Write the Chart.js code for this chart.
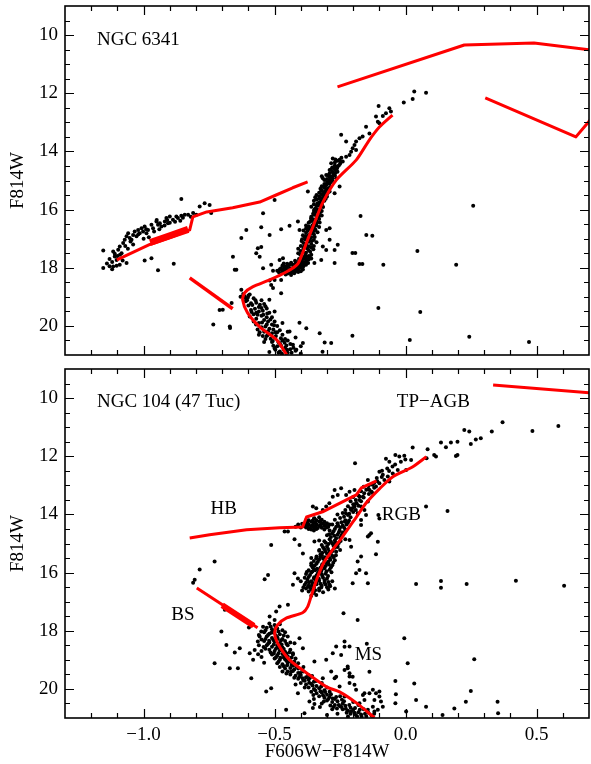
<!DOCTYPE html>
<html>
<head>
<meta charset="utf-8">
<script src="https://cdn.jsdelivr.net/npm/chart.js@4.4.1/dist/chart.umd.min.js"></script>
<style>
  html, body { margin: 0; padding: 0; background: #fff; }
  #wrap { position: relative; width: 591px; height: 764px; }
  canvas { position: absolute; left: 0; }
  #top { top: 0; }
  #bottom { top: 362px; }
</style>
</head>
<body>
<div id="wrap">
  <canvas id="top" width="591" height="362"></canvas>
  <canvas id="bottom" width="591" height="402"></canvas>
</div>
<script>
// ---- axis ticks ----
const yTickValues = [10, 12, 14, 16, 18, 20];
const xTickValues = [-1.0, -0.5, 0.0, 0.5];
const xTickLabels = ['\u22121.0', '\u22120.5', '0.0', '0.5'];

// ---- NGC 6341 : observed stars [colour, magnitude] ----
const ngc6341Stars = [
  // horizontal branch
  [-1.154,17.41],[-1.116,17.44],[-1.110,17.61],[-1.103,17.73],[-1.097,17.38],[-1.091,17.27],[-1.084,17.50],
  [-1.078,17.15],[-1.072,17.04],[-1.065,16.92],[-1.059,16.81],[-1.053,16.98],[-1.046,17.04],[-1.040,16.87],
  [-1.034,16.75],[-1.027,16.92],[-1.021,16.70],[-1.015,16.81],[-1.008,16.64],[-1.002,16.75],[-0.996,16.58],
  [-0.989,16.81],[-0.983,16.70],[-0.970,16.52],[-0.964,16.64],[-0.951,16.41],[-0.945,16.52],[-0.938,16.47],
  [-0.932,16.58],[-0.919,16.41],[-0.913,16.29],[-0.907,16.47],[-0.900,16.24],[-0.888,16.35],[-0.875,16.24],
  [-0.869,16.29],[-0.856,16.21],[-0.843,16.18],[-0.830,16.18],[-0.811,16.12],[-0.799,16.18],[-0.786,15.89],
  [-0.767,15.78],[-0.748,15.84],[-0.742,16.12],[-0.856,15.64],
  [-1.14,17.85],[-1.13,17.95],[-1.12,17.80],[-1.10,17.60],[-1.09,17.55],[-1.13,17.70],[-1.06,17.35],
  [-1.04,17.20],[-1.00,17.00],[-0.98,16.95],[-1.12,18.05],[-1.08,17.75],[-1.05,17.10],[-1.02,16.85],
  [-0.96,16.75],[-0.94,16.68],[-0.92,16.55],[-0.90,16.45],[-0.88,16.42],[-0.86,16.38],[-1.11,17.52],
  [-1.07,17.25],[-0.99,16.68],[-0.95,16.36],[-0.91,16.36],[-0.85,16.28],[-0.82,16.25],
  [-0.996,17.75],[-0.970,17.67],[-0.945,18.09],[-0.885,17.86],[-1.154,18.01],[-1.116,17.96],[-1.103,17.93],
  [-1.091,17.90],[-1.065,17.84],
  // field / scattered
  [-0.373,15.38],[-0.544,16.13],[-0.500,15.67],[-0.608,16.70],[-0.627,16.98],[-0.551,16.61],[-0.519,16.87],
  [-0.475,16.68],[-0.443,16.56],[-0.411,16.41],[-0.659,17.62],[-0.564,17.33],[-0.551,17.29],[-0.570,17.50],
  [-0.557,17.62],[-0.652,18.07],[-0.646,18.07],[-0.544,18.02],[-0.513,17.90],[-0.481,17.73],[-0.468,17.67],
  [-0.506,18.10],[-0.475,18.42],[-0.519,18.44],[-0.500,18.42],[-0.513,18.59],[-0.506,18.70],[-0.627,18.76],
  [-0.710,19.45],[-0.671,20.02],[-0.475,18.88],[-0.443,20.19],[-0.379,20.08],[-0.328,20.25],[-0.309,20.57],
  [-0.284,20.59],[-0.392,20.59],[-0.417,20.82],[-0.405,16.70],[-0.303,16.70],[-0.290,16.64],[-0.316,17.27],
  [-0.303,17.39],[-0.271,17.39],[-0.259,17.21],[-0.290,17.04],[-0.271,17.84],[-0.322,17.73],[-0.348,17.84],
  [-0.734,19.95],[-0.670,20.07],[-0.698,19.44],[-0.664,19.21],
  [0.258,15.87],[-0.172,16.22],[-0.150,16.87],[-0.127,16.90],[-0.203,17.49],[-0.192,17.49],[-0.176,17.87],
  [-0.165,17.87],[-0.085,17.90],[0.045,17.42],[0.193,17.90],[-0.104,19.38],[0.056,19.52],[-0.203,20.34],
  [0.016,20.48],[0.243,20.37],[0.471,20.55],[-0.317,20.89],[-0.405,19.89],
  // upper red giant branch
  [0.033,11.94],[0.078,11.98],[0.027,12.20],[-0.007,12.32],[-0.103,12.44],[-0.062,12.52],[-0.056,12.63],
  [-0.075,12.69],[-0.113,12.80],[-0.087,12.78],[-0.106,12.98],[-0.100,13.03],[-0.151,13.15],[-0.138,13.38],
  [-0.246,13.43],[-0.227,13.66],[-0.164,13.49],[-0.176,13.55],[-0.189,13.66],[-0.195,13.78],[-0.202,13.89],
  [-0.208,14.01],[-0.189,13.95],[-0.214,14.12],[-0.227,14.18],[-0.240,14.35],[-0.252,14.29],[-0.278,14.24],
  [-0.284,14.41],[-0.271,14.58],[-0.290,14.64],[-0.303,14.81],[-0.316,14.92],[-0.284,14.87],[-0.265,14.92],
  [-0.297,15.10],[-0.310,15.21],[-0.322,15.32],[-0.271,15.44],[-0.252,15.21],[-0.290,14.98],
  // red giant branch / subgiant branch
  [-0.48,18.05],[-0.47,18.12],[-0.46,18.00],[-0.46,18.15],[-0.45,17.95],[-0.45,18.08],[-0.44,18.02],
  [-0.44,18.18],[-0.43,17.90],[-0.43,18.05],[-0.42,17.85],[-0.42,17.98],[-0.42,18.12],[-0.41,17.80],
  [-0.41,17.92],[-0.41,18.06],[-0.40,17.75],[-0.40,17.88],[-0.40,18.00],[-0.39,17.70],[-0.39,17.82],
  [-0.39,17.95],[-0.38,17.65],[-0.38,17.78],[-0.38,17.90],[-0.37,17.60],[-0.37,17.72],[-0.36,17.55],
  [-0.36,17.68],[-0.47,17.92],[-0.49,18.10],[-0.44,17.88],[-0.43,18.15],[-0.45,18.20],[-0.40,18.12],
  [-0.475,18.02],[-0.462,17.96],[-0.455,18.13],[-0.447,17.91],[-0.436,18.09],[-0.428,17.97],[-0.418,18.04],
  [-0.412,17.86],[-0.404,17.94],[-0.397,17.79],[-0.392,18.06],[-0.386,17.86],[-0.378,17.73],[-0.372,17.84],
  [-0.366,17.63],[-0.437,17.83],[-0.452,17.86],[-0.468,18.06],[-0.483,18.16],[-0.425,18.19],[-0.407,17.70],
  [-0.394,17.62],[-0.383,17.57],[-0.41,18.15],[-0.458,18.23],
  [-0.415,17.98],[-0.396,17.89],[-0.388,17.68],[-0.422,17.76],[-0.457,18.04],[-0.437,18.25],[-0.465,17.85],
  [-0.41,17.50],[-0.40,17.42],[-0.39,17.35],[-0.38,17.48],[-0.37,17.40],[-0.36,17.30],[-0.40,17.25],
  [-0.39,17.15],[-0.38,17.22],[-0.37,17.10],[-0.36,17.18],[-0.35,17.05],[-0.395,17.02],[-0.385,16.95],
  [-0.37,16.88],[-0.36,16.95],[-0.35,16.85],[-0.38,16.80],[-0.41,17.35],[-0.35,17.25],[-0.34,17.12],
  [-0.402,17.55],[-0.388,17.28],[-0.376,17.33],[-0.364,17.45],[-0.352,17.36],[-0.397,17.08],[-0.382,17.03],
  [-0.367,16.99],[-0.356,16.79],[-0.374,16.73],[-0.362,16.64],[-0.344,16.69],[-0.392,16.88],[-0.347,16.94],
  [-0.336,16.78],
  [-0.392,17.47],[-0.378,17.18],[-0.369,17.27],[-0.358,17.08],[-0.381,16.91],[-0.364,16.83],[-0.349,16.73],
  [-0.371,16.67],[-0.356,16.55],[-0.342,16.47],[-0.361,16.31],[-0.347,16.37],[-0.331,16.23],[-0.353,16.14],
  [-0.339,16.07],[-0.326,16.09],[-0.348,15.99],[-0.331,15.86],[-0.319,15.74],[-0.329,15.62],[-0.312,15.57],
  [-0.321,15.47],[-0.307,15.36],[-0.296,15.27],[-0.302,15.14],[-0.289,15.01],[-0.279,14.85],[-0.268,14.73],
  [-0.261,14.56],[-0.248,14.36],
  [-0.39,16.72],[-0.38,16.65],[-0.37,16.58],[-0.36,16.70],[-0.35,16.62],[-0.34,16.55],[-0.37,16.45],
  [-0.36,16.38],[-0.35,16.48],[-0.34,16.40],[-0.33,16.32],[-0.36,16.25],[-0.35,16.18],[-0.34,16.22],
  [-0.33,16.12],[-0.32,16.20],[-0.35,16.05],[-0.34,16.00],[-0.32,16.05],[-0.38,16.55],[-0.33,16.60],
  [-0.365,16.42],[-0.352,16.33],[-0.338,16.27],[-0.328,16.44],[-0.346,16.12],[-0.327,15.98],[-0.343,15.95],
  [-0.315,15.91],[-0.337,15.79],[-0.322,15.66],[-0.305,15.63],[-0.345,15.58],[-0.315,15.46],[-0.298,15.44],
  [-0.325,15.28],[-0.305,15.18],[-0.288,15.22],[-0.285,15.05],[-0.296,14.82],[-0.275,14.77],[-0.263,14.60],
  [-0.285,14.62],[-0.255,14.48],[-0.268,14.28],[-0.245,14.22],
  [-0.36,15.90],[-0.35,15.82],[-0.34,15.88],[-0.33,15.75],[-0.32,15.82],[-0.31,15.70],[-0.34,15.65],
  [-0.33,15.55],[-0.32,15.60],[-0.31,15.50],[-0.30,15.55],[-0.33,15.42],[-0.32,15.35],[-0.31,15.40],
  [-0.30,15.30],[-0.29,15.38],[-0.34,15.50],[-0.35,15.70],[-0.31,15.25],[-0.32,15.20],
  [-0.31,15.12],[-0.30,15.05],[-0.29,15.10],[-0.28,15.00],[-0.30,14.95],[-0.29,14.88],[-0.28,14.92],
  [-0.27,14.82],[-0.29,14.75],[-0.28,14.70],[-0.27,14.62],[-0.26,14.70],[-0.28,14.55],[-0.27,14.48],
  [-0.26,14.52],[-0.25,14.42],[-0.27,14.38],[-0.26,14.32],[-0.31,14.98],[-0.32,14.85],
  // main sequence
  [-0.62,18.90],[-0.60,18.95],[-0.58,19.05],[-0.61,19.15],[-0.57,19.20],[-0.55,19.12],[-0.60,19.30],
  [-0.56,19.35],[-0.54,19.25],[-0.59,19.45],[-0.56,19.50],[-0.53,19.40],[-0.58,19.60],[-0.55,19.65],
  [-0.52,19.55],[-0.57,19.75],[-0.54,19.80],[-0.51,19.70],[-0.56,19.90],[-0.53,19.95],[-0.50,19.85],
  [-0.55,20.05],[-0.52,20.10],[-0.49,20.00],[-0.54,20.20],[-0.51,20.25],[-0.48,20.15],[-0.53,20.35],
  [-0.50,20.40],[-0.47,20.30],[-0.46,20.45],[-0.51,20.55],[-0.48,20.60],[-0.45,20.50],[-0.49,20.70],
  [-0.46,20.75],[-0.43,20.65],[-0.44,20.80],[-0.48,20.88],[-0.45,20.92],[-0.42,20.85],[-0.40,20.95],
  [-0.52,20.90],[-0.61,19.05],[-0.59,19.22],[-0.57,19.55],[-0.55,19.38],[-0.53,19.70],[-0.51,19.95],
  [-0.49,20.22],[-0.47,20.50],[-0.44,20.62],[-0.50,20.78],[-0.56,20.30],[-0.58,19.85],[-0.52,19.10],
  [-0.50,19.50],[-0.47,19.90],[-0.45,20.20],[-0.42,20.40],[-0.40,20.70],[-0.63,19.00],[-0.54,20.55],
  [-0.605,19.12],[-0.585,19.28],[-0.575,19.41],[-0.565,19.62],[-0.545,19.48],[-0.548,19.88],[-0.535,20.02],
  [-0.525,20.18],[-0.505,20.12],[-0.515,20.44],[-0.495,20.35],[-0.485,20.56],[-0.475,20.68],[-0.465,20.82],
  [-0.455,20.67],[-0.435,20.92],[-0.505,20.68],[-0.525,19.85],[-0.535,19.32],[-0.595,19.68],[-0.565,20.12],
  [-0.545,20.35],[-0.485,20.92],[-0.615,18.98],[-0.595,18.92],
  [-0.602,19.02],[-0.573,19.12],[-0.588,19.52],[-0.556,19.27],[-0.571,19.95],[-0.543,19.62],[-0.528,19.57],
  [-0.557,20.22],[-0.526,20.31],[-0.497,20.22],[-0.476,20.42],[-0.507,20.52],[-0.462,20.58],[-0.497,20.82],
  [-0.472,20.96],[-0.452,20.82],[-0.428,20.75],[-0.516,19.78],[-0.502,19.98],[-0.535,20.45]
];

// ---- NGC 6341 : model tracks ----
const ngc6341Hb = [[-1.102,17.73],[-0.976,17.20],[-0.889,16.93],[-0.824,16.70],[-0.812,16.25],[-0.759,16.08],
  [-0.660,15.94],[-0.557,15.74],[-0.492,15.49],[-0.431,15.25],[-0.374,15.05]];
const ngc6341HbBand = [[-0.975,17.13],[-0.90,16.90],[-0.83,16.68]];
const ngc6341Bs = [[-0.824,18.35],[-0.660,19.41]];
const ngc6341Rgb = [[-0.454,20.99],[-0.492,20.48],[-0.557,20.03],[-0.603,19.55],[-0.622,19.10],[-0.614,18.86],
  [-0.584,18.66],[-0.519,18.42],[-0.454,18.14],[-0.412,17.87],[-0.393,17.49],[-0.374,17.04],[-0.348,16.46],
  [-0.317,15.77],[-0.264,14.98],[-0.188,14.29],[-0.138,13.60],[-0.100,13.16],[-0.050,12.75]];
const ngc6341AgbUpper = [[-0.260,11.78],[0.224,10.34],[0.490,10.27],[0.72,10.53]];
const ngc6341AgbLower = [[0.304,12.16],[0.650,13.50],[0.72,12.75]];

// ---- NGC 104 : observed stars ----
const ngc104Stars = [
  // red clump / horizontal branch
  [-0.39,14.40],[-0.38,14.30],[-0.38,14.45],[-0.37,14.20],[-0.37,14.35],[-0.37,14.50],[-0.36,14.25],
  [-0.36,14.40],[-0.35,14.15],[-0.35,14.30],[-0.35,14.45],[-0.34,14.20],[-0.34,14.35],[-0.34,14.50],
  [-0.33,14.25],[-0.33,14.40],[-0.32,14.18],[-0.32,14.32],[-0.32,14.46],[-0.31,14.25],[-0.31,14.40],
  [-0.30,14.30],[-0.30,14.45],[-0.29,14.35],[-0.36,14.52],[-0.38,14.20],[-0.33,14.10],[-0.31,14.52],
  [-0.40,14.45],[-0.35,14.55],[-0.41,14.35],[-0.42,14.42],
  [-0.385,14.37],[-0.375,14.27],[-0.365,14.47],[-0.355,14.37],[-0.345,14.27],[-0.335,14.47],[-0.325,14.36],
  [-0.315,14.31],[-0.305,14.38],[-0.355,14.22],[-0.325,14.22],[-0.295,14.42],[-0.375,14.42],[-0.345,14.42],
  [-0.395,14.32],
  [-0.354,13.73],[-0.341,13.79],[-0.316,13.85],[-0.303,13.73],[-0.291,13.62],[-0.271,13.16],[-0.278,13.39],
  [-0.259,13.33],[-0.246,13.10],[-0.227,13.33],[-0.214,13.22],[-0.195,13.16],[-0.144,12.82],[-0.348,14.13],
  // upper red giant branch / AGB
  [0.370,10.83],[0.224,11.10],[0.243,11.15],[0.329,11.15],[0.484,11.13],[0.583,10.96],[0.135,11.53],
  [0.154,11.69],[0.173,11.53],[0.198,11.50],[0.249,11.58],[0.268,11.42],[0.287,11.38],[0.027,11.70],
  [0.084,11.76],[0.192,11.99],[0.198,11.96],[0.116,12.01],[0.109,11.96],[0.080,12.07],[-0.039,11.96],
  [-0.024,12.01],[-0.005,11.98],[-0.001,12.11],[-0.075,12.09],[-0.062,12.19],[-0.018,12.19],[0.021,12.13],
  [-0.193,12.24],
  [-0.100,12.53],[-0.087,12.64],[-0.068,12.70],[-0.049,12.59],[-0.030,12.47],[0.002,12.47],[-0.062,12.87],
  [-0.081,12.82],[-0.100,12.93],[-0.113,13.04],[-0.138,13.16],[-0.125,13.27],[-0.144,13.56],[-0.163,13.39],
  [-0.176,13.50],[-0.189,13.62],[-0.170,13.73],[-0.157,13.85],[-0.195,13.73],[-0.208,13.85],[-0.183,13.96],
  [-0.151,14.02],[-0.170,14.19],
  [-0.09,12.50],[-0.07,12.42],[-0.05,12.35],[-0.11,12.75],[-0.12,12.92],[-0.04,12.28],
  // red giant branch
  [-0.22,13.72],[-0.20,13.65],[-0.18,13.70],[-0.21,13.55],[-0.19,13.50],[-0.17,13.55],[-0.20,13.40],
  [-0.18,13.35],[-0.16,13.42],[-0.14,13.30],[-0.17,13.20],[-0.15,13.15],[-0.13,13.22],[-0.16,13.05],
  [-0.14,13.00],[-0.12,13.08],
  [-0.29,14.55],[-0.27,14.50],[-0.25,14.45],[-0.23,14.52],[-0.28,14.35],[-0.26,14.30],[-0.24,14.38],
  [-0.22,14.28],[-0.27,14.18],[-0.25,14.12],[-0.23,14.20],[-0.21,14.10],[-0.26,14.00],[-0.24,13.95],
  [-0.22,14.02],[-0.20,13.92],[-0.23,13.85],[-0.21,13.80],[-0.19,13.85],
  [-0.33,15.25],[-0.31,15.20],[-0.29,15.28],[-0.27,15.15],[-0.25,15.22],[-0.32,15.05],[-0.30,15.10],
  [-0.28,15.00],[-0.26,15.05],[-0.31,14.92],[-0.29,14.85],[-0.27,14.90],[-0.25,14.80],[-0.30,14.72],
  [-0.28,14.65],[-0.26,14.70],[-0.24,14.62],[-0.33,14.90],[-0.23,14.85],
  [-0.37,15.92],[-0.35,15.88],[-0.33,15.95],[-0.31,15.85],[-0.29,15.90],[-0.36,15.75],[-0.34,15.70],
  [-0.32,15.78],[-0.30,15.68],[-0.28,15.75],[-0.35,15.60],[-0.33,15.55],[-0.31,15.62],[-0.29,15.50],
  [-0.27,15.58],[-0.34,15.45],[-0.32,15.40],[-0.30,15.35],[-0.28,15.42],[-0.36,15.50],
  [-0.39,16.50],[-0.38,16.55],[-0.37,16.45],[-0.36,16.58],[-0.35,16.50],[-0.34,16.40],[-0.33,16.55],
  [-0.32,16.45],[-0.30,16.50],[-0.29,16.42],[-0.38,16.35],[-0.36,16.30],[-0.35,16.20],[-0.33,16.28],
  [-0.31,16.35],[-0.37,16.15],[-0.34,16.10],[-0.32,16.05],[-0.30,16.20],[-0.38,16.05],[-0.36,16.00],
  [-0.28,16.30],[-0.27,16.55],[-0.40,16.30],[-0.37,16.65],[-0.35,16.70],[-0.33,16.62],[-0.36,16.80],
  [-0.385,16.42],[-0.365,16.52],[-0.345,16.61],[-0.325,16.38],[-0.305,16.41],[-0.355,16.36],[-0.375,16.25],
  [-0.345,16.25],[-0.315,16.18],[-0.295,16.32],[-0.365,16.08],[-0.335,16.02],[-0.305,16.04],[-0.345,15.92],
  [-0.325,15.83],[-0.305,15.77],[-0.285,15.82],[-0.355,15.82],[-0.335,15.63],[-0.315,15.52],[-0.295,15.63],
  [-0.275,15.47],[-0.325,15.37],[-0.305,15.28],[-0.285,15.32],[-0.265,15.28],[-0.315,15.13],[-0.295,15.02],
  [-0.275,15.08],[-0.255,14.98],[-0.285,14.78],[-0.265,14.82],[-0.245,14.72],[-0.275,14.58],[-0.255,14.62],
  [-0.235,14.45],[-0.265,14.42],[-0.245,14.27],[-0.225,14.35],[-0.235,14.08],[-0.215,13.98],[-0.395,16.62],
  [-0.385,16.18],[-0.295,16.58],[-0.315,16.68],
  [-0.372,16.47],[-0.358,16.44],[-0.341,16.33],[-0.322,16.51],[-0.309,16.27],[-0.288,16.47],[-0.368,16.33],
  [-0.349,16.16],[-0.331,16.21],[-0.318,16.11],[-0.296,16.12],[-0.377,15.98],[-0.356,15.96],[-0.338,15.87],
  [-0.321,15.93],[-0.302,15.95],[-0.283,15.99],[-0.347,15.76],[-0.318,15.71],[-0.293,15.72],[-0.276,15.66],
  [-0.341,15.51],[-0.326,15.46],[-0.308,15.47],[-0.287,15.56],[-0.266,15.40],[-0.318,15.32],[-0.296,15.19],
  [-0.278,15.26],[-0.259,15.12],[-0.305,14.97],[-0.285,14.94],[-0.268,14.97],[-0.248,14.91],[-0.292,14.68],
  [-0.272,14.73],[-0.252,14.55],[-0.236,14.62],[-0.258,14.37],[-0.232,14.25],[-0.216,14.21],[-0.228,13.96],
  [-0.201,13.78],[-0.187,13.62],[-0.176,13.38],[-0.158,13.27],[-0.142,13.12],[-0.126,12.98],[-0.108,12.86],
  [-0.091,12.71],[-0.063,12.51],
  // scattered stars near the giant branch
  [-0.144,14.76],[-0.132,14.65],[-0.106,14.94],[-0.113,15.37],[-0.170,15.45],[-0.183,15.62],[-0.176,15.91],
  [-0.189,16.02],[-0.151,16.02],[-0.144,16.37],[-0.208,15.11],[-0.214,14.88],[-0.405,15.05],[-0.392,15.34],
  [-0.449,14.59],[-0.462,14.59],[-0.424,16.02],[-0.411,16.20],[-0.430,16.42],[0.078,13.73],[0.160,13.88],
  [-0.100,14.14],[-0.104,14.02],[-0.424,14.85],[-0.348,14.93],[-0.329,15.22],[-0.360,15.68],[-0.341,16.77],
  [-0.202,16.37],[-0.138,14.71],[-0.170,14.36],
  [0.040,16.39],[0.135,16.29],[0.135,16.52],[0.233,16.39],[0.421,16.28],[0.605,16.45],[-0.005,18.26],
  [0.008,19.12],[0.262,18.98],[0.033,19.81],[-0.039,19.73],[0.249,20.07],[0.230,20.44],[0.351,20.44],
  [0.353,20.84],[0.186,20.67],[0.078,20.61],[0.040,20.38],[-0.037,20.18],[-0.039,20.49],[0.002,20.78],
  [0.141,20.90],[-0.100,20.09],[-0.138,20.15],[-0.138,19.41],[-0.183,17.63],[-0.233,18.55],[-0.246,18.83],
  [-0.221,19.29],[-0.214,19.46],[-0.237,17.40],[-0.148,18.45],
  // blue stragglers and left field
  [-0.786,15.89],[-0.805,16.25],[-0.729,15.62],[-0.525,16.08],[-0.538,16.23],[-0.513,15.05],[-0.690,17.28],
  [-0.703,18.03],[-0.684,18.49],[-0.729,19.12],[-0.671,19.29],[-0.640,19.29],[-0.633,18.60],[-0.589,19.63],
  [-0.595,18.77],[-0.576,18.66],[-0.564,18.37],[-0.557,18.20],[-0.551,18.03],[-0.544,17.86],[-0.519,17.51],
  [-0.481,17.17],[-0.449,17.11],[-0.494,17.34],[-0.500,17.63],[-0.652,18.75],[-0.598,17.89],[-0.582,19.00],
  [-0.563,18.81],[-0.811,16.35],
  // turn-off and main sequence
  [-0.233,18.37],[-0.214,18.54],[-0.265,18.54],[-0.303,19.00],[-0.278,18.77],[-0.348,19.06],[-0.405,18.26],
  [-0.424,18.43],[-0.430,18.77],[-0.392,18.60],[-0.532,20.09],[-0.513,19.98],[-0.456,20.72],[-0.386,20.84],
  [-0.354,20.66],[-0.367,20.43],[-0.411,20.15],[-0.316,19.63],[-0.265,19.58],[-0.202,19.58],[-0.214,19.80],
  [-0.157,20.15],[-0.233,20.26],[-0.125,20.03],[-0.119,20.38],[-0.106,20.72],
  [-0.233,19.35],[-0.221,19.23],[-0.214,19.57],[-0.195,19.86],[-0.189,20.03],[-0.163,20.21],[-0.113,20.15],
  [-0.100,20.26],[-0.094,20.43],[-0.087,20.61],[-0.125,20.61],[-0.157,20.38],[-0.176,20.49],[-0.144,20.72],
  [-0.119,20.78],[-0.271,19.63],[-0.252,19.92],[-0.284,19.40],
  [-0.52,17.75],[-0.50,17.80],[-0.48,17.78],[-0.53,17.90],[-0.51,17.95],[-0.49,17.92],[-0.47,17.98],
  [-0.54,18.05],[-0.52,18.10],[-0.50,18.08],[-0.48,18.12],[-0.46,18.05],[-0.53,18.20],[-0.51,18.25],
  [-0.49,18.22],[-0.47,18.28],[-0.45,18.20],[-0.54,18.35],[-0.52,18.40],[-0.50,18.38],[-0.48,18.42],
  [-0.46,18.35],[-0.44,18.40],[-0.53,18.50],[-0.51,18.55],[-0.49,18.52],[-0.47,18.58],[-0.45,18.50],
  [-0.52,18.65],[-0.50,18.70],[-0.48,18.68],[-0.46,18.72],[-0.44,18.65],[-0.51,18.82],[-0.49,18.85],
  [-0.47,18.80],[-0.45,18.88],[-0.43,18.82],[-0.50,18.95],[-0.48,19.00],[-0.46,18.98],[-0.44,19.05],
  [-0.42,18.95],[-0.49,19.12],[-0.47,19.15],[-0.45,19.10],[-0.43,19.20],[-0.41,19.12],[-0.48,19.25],
  [-0.46,19.30],[-0.44,19.28],[-0.55,18.30],[-0.56,18.50],[-0.55,18.70],[-0.56,18.15],[-0.55,18.90],
  [-0.54,19.10],
  [-0.515,17.85],[-0.495,17.88],[-0.535,17.98],[-0.505,18.02],[-0.485,18.03],[-0.525,18.15],[-0.495,18.17],
  [-0.465,18.16],[-0.535,18.28],[-0.505,18.32],[-0.475,18.33],[-0.455,18.45],[-0.525,18.45],[-0.495,18.62],
  [-0.465,18.63],[-0.535,18.62],[-0.515,18.75],[-0.485,18.77],[-0.455,18.78],[-0.495,18.92],[-0.465,18.92],
  [-0.435,18.92],[-0.485,19.07],[-0.455,19.03],[-0.425,19.06],[-0.465,19.22],[-0.435,19.17],[-0.425,19.33],
  [-0.455,19.47],[-0.395,19.33],[-0.425,19.62],[-0.405,19.58],[-0.385,19.72],[-0.365,19.62],[-0.385,19.95],
  [-0.355,19.88],[-0.345,20.05],[-0.325,20.08],[-0.315,20.22],[-0.285,20.18],[-0.295,20.35],[-0.265,20.28],
  [-0.255,20.55],[-0.235,20.42],[-0.215,20.55],[-0.225,20.82],[-0.195,20.82],[-0.175,20.72],[-0.155,20.85],
  [-0.185,20.95],[-0.245,20.62],[-0.275,20.62],
  [-0.512,18.07],[-0.488,18.28],[-0.521,18.34],[-0.473,18.47],[-0.503,18.47],[-0.542,18.56],[-0.487,18.58],
  [-0.462,18.85],[-0.478,18.93],[-0.443,18.74],[-0.503,18.78],[-0.452,19.19],[-0.437,19.41],[-0.417,19.23],
  [-0.402,19.45],[-0.372,19.52],[-0.393,19.63],[-0.357,19.56],[-0.368,19.79],[-0.342,19.73],[-0.322,19.92],
  [-0.352,20.21],[-0.307,20.11],[-0.278,20.33],[-0.312,20.43],[-0.287,20.57],[-0.262,20.67],[-0.243,20.37],
  [-0.228,20.68],[-0.208,20.78],[-0.193,20.66],[-0.168,20.96],[-0.142,20.82],[-0.327,20.62],[-0.348,20.52],
  [-0.45,19.40],[-0.43,19.38],[-0.41,19.45],[-0.39,19.40],[-0.44,19.50],[-0.42,19.55],[-0.40,19.52],
  [-0.38,19.60],[-0.41,19.65],[-0.39,19.70],[-0.37,19.68],[-0.35,19.75],[-0.40,19.80],[-0.38,19.85],
  [-0.36,19.82],[-0.34,19.90],[-0.37,19.95],[-0.35,20.00],[-0.33,19.98],[-0.31,20.05],[-0.36,20.10],
  [-0.34,20.15],[-0.32,20.12],[-0.30,20.20],[-0.33,20.25],[-0.31,20.30],[-0.29,20.28],[-0.27,20.35],
  [-0.30,20.40],[-0.28,20.45],[-0.26,20.42],[-0.24,20.50],[-0.27,20.55],[-0.25,20.60],[-0.23,20.58],
  [-0.21,20.65],[-0.24,20.70],[-0.22,20.75],[-0.20,20.72],[-0.18,20.80],[-0.21,20.85],[-0.19,20.90],
  [-0.17,20.88],[-0.15,20.95],[-0.13,20.92],[-0.28,20.70],[-0.32,20.50],[-0.35,20.35],[-0.26,20.85],
  [-0.22,20.95],[-0.30,20.90],[-0.32,19.80],[-0.30,19.95],[-0.42,19.85],[-0.29,20.10],[-0.20,20.45],
  [-0.18,20.55],[-0.16,20.70],[-0.12,20.85],[-0.39,19.25],[-0.41,19.30],[-0.47,19.40],[-0.25,20.25]
];

// ---- NGC 104 : model tracks ----
const ngc104TpAgb = [[0.334,9.55],[0.72,9.83]];
const ngc104Hb = [[-0.824,14.81],[-0.748,14.70],[-0.607,14.53],[-0.481,14.46],[-0.393,14.43],[-0.378,14.09],
  [-0.317,13.91],[-0.226,13.50],[-0.188,13.33],[-0.169,13.09],[-0.111,12.85]];
const ngc104Bs = [[-0.797,16.53],[-0.565,17.90]];
const ngc104BsBand = [[-0.70,17.12],[-0.58,17.83]];
const ngc104Rgb = [[-0.119,20.99],[-0.188,20.48],[-0.252,20.10],[-0.302,19.93],[-0.378,19.45],[-0.443,19.00],
  [-0.489,18.42],[-0.500,18.07],[-0.489,17.80],[-0.454,17.56],[-0.393,17.38],[-0.374,17.18],[-0.359,16.77],
  [-0.340,16.25],[-0.313,15.67],[-0.279,15.22],[-0.241,14.77],[-0.188,14.09],[-0.150,13.60],[-0.100,13.12],
  [-0.050,12.71],[0.026,12.37],[0.079,12.02]];

const RED = 'rgb(255, 0, 0)';
const FONT = '"Liberation Serif", "Times New Roman", serif';

function toXY(pairs) {
  return pairs.map(([x, y]) => ({ x, y }));
}

// frame, inward ticks on all four sides and text labels
const framePlugin = {
  id: 'frame',
  afterDatasetsDraw(chart, args, opts) {
    const { ctx, chartArea: a, scales: { x, y } } = chart;
    ctx.save();
    ctx.strokeStyle = '#000';
    ctx.lineWidth = 1.6;
    ctx.strokeRect(a.left, a.top, a.right - a.left, a.bottom - a.top);
    ctx.lineWidth = 1.2;
    ctx.beginPath();
    for (let i = -12; i <= 6; i++) {
      const px = Math.round(x.getPixelForValue(i / 10)) + 0.5;
      const len = (i % 5 === 0) ? 9 : 5;
      ctx.moveTo(px, a.bottom); ctx.lineTo(px, a.bottom - len);
      ctx.moveTo(px, a.top); ctx.lineTo(px, a.top + len);
    }
    for (let i = 19; i <= 41; i++) {
      const py = Math.round(y.getPixelForValue(i / 2)) + 0.5;
      const len = (i % 4 === 0) ? 9 : 5;
      ctx.moveTo(a.left, py); ctx.lineTo(a.left + len, py);
      ctx.moveTo(a.right, py); ctx.lineTo(a.right - len, py);
    }
    ctx.stroke();

    ctx.fillStyle = '#000';
    ctx.font = '19px ' + FONT;
    ctx.textBaseline = 'middle';
    (opts.labels || []).forEach((lb) => {
      ctx.textAlign = lb.align;
      ctx.fillText(lb.text, x.getPixelForValue(lb.x), y.getPixelForValue(lb.y));
    });
    ctx.restore();
  }
};

function lineSet(pairs, width, tension) {
  return {
    data: toXY(pairs),
    showLine: true,
    borderColor: RED,
    backgroundColor: RED,
    borderWidth: width,
    pointRadius: 0,
    tension: tension,
    borderCapStyle: 'butt',
    borderJoinStyle: 'round',
    order: 0
  };
}

function makePanel(canvasId, stars, lines, labels, bottomAxis) {
  const datasets = lines.map((l) => lineSet(l.data, l.width, l.tension));
  datasets.push({
    data: toXY(stars),
    pointRadius: 2,
    pointHoverRadius: 2,
    pointBackgroundColor: '#000',
    pointBorderWidth: 0,
    showLine: false,
    order: 1
  });

  return new Chart(document.getElementById(canvasId), {
    type: 'scatter',
    data: { datasets },
    plugins: [framePlugin],
    options: {
      responsive: false,
      animation: false,
      events: [],
      layout: { padding: { top: bottomAxis ? 7 : 6, right: 1, left: 0, bottom: 0 } },
      plugins: {
        legend: { display: false },
        tooltip: { enabled: false },
        frame: { labels }
      },
      scales: {
        x: {
          type: 'linear',
          min: -1.3,
          max: 0.7,
          grid: { display: false, drawTicks: false },
          border: { display: false },
          afterBuildTicks: (s) => { s.ticks = xTickValues.map((v) => ({ value: v })); },
          afterFit: (s) => {
            s.height = bottomAxis ? 46 : 7;
            s.paddingLeft = 0; s.paddingRight = 0;
          },
          ticks: {
            display: bottomAxis,
            padding: 6,
            color: '#000',
            font: { family: FONT, size: 19 },
            callback: (v, i) => xTickLabels[i]
          },
          title: {
            display: bottomAxis,
            text: 'F606W\u2212F814W',
            color: '#000',
            font: { family: FONT, size: 19 },
            padding: { top: 0, bottom: 1 }
          }
        },
        y: {
          type: 'linear',
          reverse: true,
          min: 9,
          max: 21,
          grid: { display: false, drawTicks: false },
          border: { display: false },
          afterBuildTicks: (s) => { s.ticks = yTickValues.map((v) => ({ value: v })); },
          afterFit: (s) => {
            s.width = 65;
            s.paddingTop = 0; s.paddingBottom = 0;
          },
          ticks: {
            padding: 7,
            color: '#000',
            font: { family: FONT, size: 19 },
            callback: (v) => String(v)
          },
          title: {
            display: true,
            text: 'F814W',
            color: '#000',
            font: { family: FONT, size: 19 },
            padding: { top: 7, bottom: 0 }
          }
        }
      }
    }
  });
}

makePanel('top', ngc6341Stars, [
  { data: ngc6341Hb, width: 3, tension: 0 },
  { data: ngc6341HbBand, width: 7, tension: 0 },
  { data: ngc6341Bs, width: 3.5, tension: 0 },
  { data: ngc6341Rgb, width: 3, tension: 0.25 },
  { data: ngc6341AgbUpper, width: 3, tension: 0 },
  { data: ngc6341AgbLower, width: 3, tension: 0 }
], [
  { text: 'NGC 6341', x: -1.178, y: 10.17, align: 'left' }
], false);

makePanel('bottom', ngc104Stars, [
  { data: ngc104TpAgb, width: 3, tension: 0 },
  { data: ngc104Hb, width: 3, tension: 0 },
  { data: ngc104Bs, width: 3, tension: 0 },
  { data: ngc104BsBand, width: 6, tension: 0 },
  { data: ngc104Rgb, width: 3, tension: 0.25 }
], [
  { text: 'NGC 104 (47 Tuc)', x: -1.178, y: 10.13, align: 'left' },
  { text: 'TP\u2212AGB', x: 0.106, y: 10.12, align: 'center' },
  { text: 'HB', x: -0.694, y: 13.81, align: 'center' },
  { text: 'RGB', x: -0.016, y: 14.02, align: 'center' },
  { text: 'BS', x: -0.85, y: 17.45, align: 'center' },
  { text: 'MS', x: -0.142, y: 18.83, align: 'center' }
], true);
</script>
</body>
</html>
